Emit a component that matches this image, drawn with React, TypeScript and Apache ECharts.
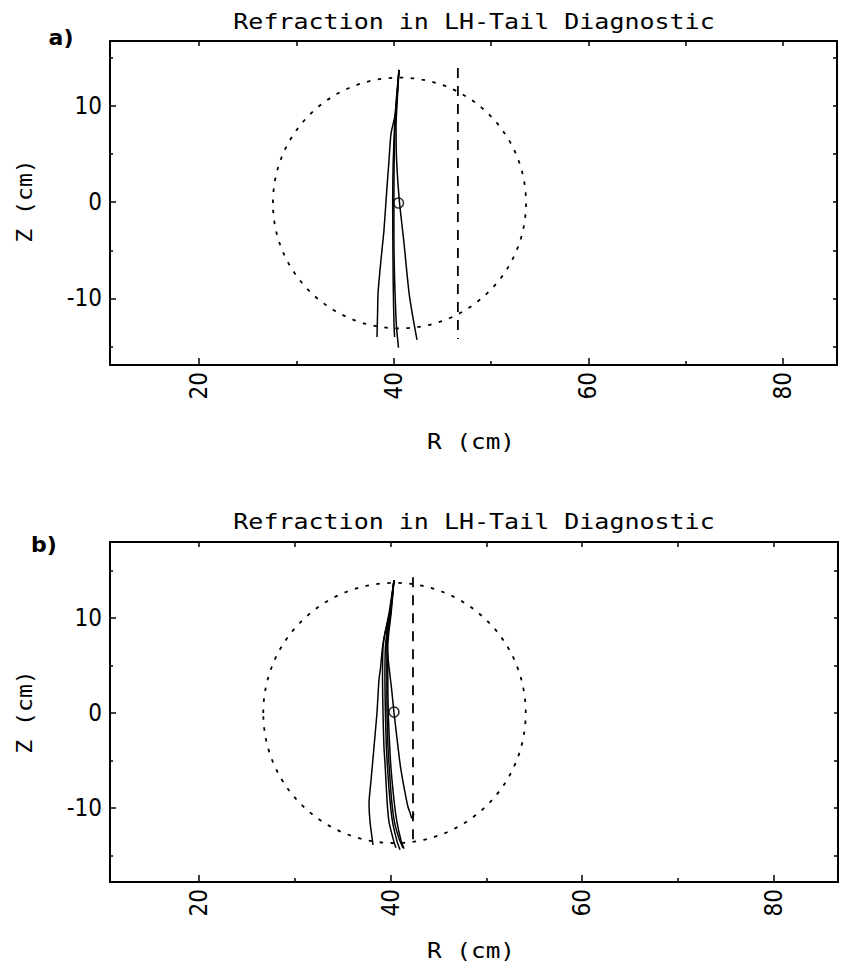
import React, { useEffect, useRef } from 'react';
import * as echarts from 'echarts';

// ---- tick values ----
const xTickLabels = [20, 40, 60, 80];
const xMinorTicks = [30, 50, 70];
const xTopTicks = [20, 30, 40, 50, 60, 70, 80];
const yTickLabels = [-10, 0, 10];
const yMinorTicks = [-15, -5, 5, 15];
const yRightTicks = [-15, -10, -5, 0, 5, 10, 15];

const titleText = 'Refraction in LH-Tail Diagnostic';
const xName = 'R (cm)';
const yName = 'Z (cm)';
const panelLetters = ['a)', 'b)'];

// ---- panel a data (R, Z in cm) ----
const rayA1 = [[40.55, 13.7], [40.35, 11], [40.15, 9], [39.73, 7.1], [39.5, 4], [39.32, 1.6], [39.0, -3], [38.7, -6], [38.4, -9.4], [38.35, -11.5], [38.29, -14.0]];
const rayA2 = [[40.55, 13.7], [40.35, 11], [40.15, 8], [40.05, 4], [40.03, 0], [40.03, -4], [40.1, -8], [40.2, -11], [40.3, -13], [40.5, -15.1]];
const rayA3 = [[40.55, 13.7], [40.3, 11], [40.1, 8], [39.95, 4], [39.9, 0], [39.92, -4], [39.95, -8], [40.0, -11], [40.05, -13], [40.1, -14.0]];
const rayA4 = [[40.55, 13.7], [40.4, 11], [40.25, 8], [40.3, 4.4], [40.6, 0], [41.06, -4.2], [41.3, -6.7], [41.58, -9.4], [41.9, -11.5], [42.4, -14.3]];
const raysA = [rayA1, rayA2, rayA3, rayA4];
const vesselA = [40.6, -0.1, 13.0]; // centre R, centre Z, radius
const antennaA = [[46.6, 13.9], [46.6, -14.2]];
const axisMarkA = [[40.5, -0.1]];

// ---- panel b data (R, Z in cm) ----
const rayB1 = [[40.35, 14.0], [39.9, 10.5], [39.4, 8.4], [39.15, 6.9], [38.95, 4.8], [38.78, 3.5], [38.57, 0], [38.26, -3.6], [37.95, -7.1], [37.74, -9.5], [37.85, -11.5], [38.16, -13.9]];
const rayB2 = [[40.35, 14.0], [39.93, 10.5], [39.6, 8.4], [39.62, 6.9], [39.83, 4.8], [40.1, 2.5], [40.35, 0], [40.56, -1.8], [41.0, -5.5], [41.39, -7.8], [41.81, -9.9], [42.02, -10.5], [42.2, -11.05], [42.44, -10.6]];
const rayB3 = [[40.35, 14.0], [39.83, 10.5], [39.41, 8.4], [39.2, 6.9], [39.15, 3.5], [39.2, 0], [39.3, -3.6], [39.41, -5.3], [39.62, -9.2], [39.83, -11.5], [40.35, -13.6], [40.55, -14.2]];
const rayB4 = [[40.35, 14.0], [39.93, 10.5], [39.6, 8.4], [39.45, 6.9], [39.4, 3.5], [39.45, 0], [39.55, -3.6], [39.72, -6.5], [39.93, -9.2], [40.2, -11.5], [40.66, -13.5], [40.97, -14.4]];
const rayB5 = [[40.35, 14.0], [40.0, 10.5], [39.72, 8.4], [39.62, 6.9], [39.6, 3.5], [39.62, 0], [39.72, -3.6], [39.9, -6.5], [40.1, -9.2], [40.4, -11.5], [40.9, -13.3], [41.29, -14.2]];
const rayB6 = [[40.35, 14.0], [40.05, 10.5], [39.8, 8.4], [39.7, 6.9], [39.7, 3.5], [39.75, 0], [39.9, -3.6], [40.05, -6], [40.35, -9.2], [40.66, -11.5], [41.1, -13.5], [41.4, -14.3]];
const raysB = [rayB1, rayB2, rayB3, rayB4, rayB5, rayB6];
const vesselB = [40.4, 0.0, 13.7];
const antennaB = [[42.33, 14.3], [42.33, -14.1]];
const axisMarkB = [[40.35, 0.1]];

const LABEL_FONT = "'Liberation Sans Narrow', 'DejaVu Sans Condensed', 'DejaVu Sans', sans-serif";
const MONO_FONT = "'DejaVu Sans Mono', 'Liberation Mono', monospace";

const panels = [
  {
    grid: { left: 110, top: 41, width: 727, height: 324 },
    x: [10.86, 85.55], y: [-16.9, 16.7],
    rays: raysA, vessel: vesselA, antenna: antennaA, mark: axisMarkA,
    titleY: 22, xNameY: 442, yNameY: 201, letterX: 61, letterY: 37,
  },
  {
    grid: { left: 110, top: 542, width: 728, height: 340 },
    x: [10.7, 86.7], y: [-17.8, 18.0],
    rays: raysB, vessel: vesselB, antenna: antennaB, mark: axisMarkB,
    titleY: 522, xNameY: 951, yNameY: 712, letterX: 44, letterY: 544,
  },
];

function buildOption() {
  const grids: any[] = [];
  const xAxes: any[] = [];
  const yAxes: any[] = [];
  const series: any[] = [];
  const graphics: any[] = [];
  const black = '#000';

  panels.forEach((p, i) => {
    grids.push({ ...p.grid, containLabel: false, outerBoundsMode: 'none', show: false });
    const base = { gridIndex: i, type: 'value', splitLine: { show: false }, scale: false };
    const xb = i * 3;
    xAxes.push({
      ...base, min: p.x[0], max: p.x[1], position: 'bottom',
      axisLine: { show: true, onZero: false, lineStyle: { color: black, width: 2 } },
      axisTick: { show: true, inside: true, length: 7, customValues: xTickLabels, lineStyle: { color: black, width: 1.5 } },
      axisLabel: { show: true, customValues: xTickLabels, rotate: 90, margin: 7, fontSize: 24, fontFamily: LABEL_FONT, color: black },
    });
    xAxes.push({
      ...base, min: p.x[0], max: p.x[1], position: 'bottom',
      axisLine: { show: false, onZero: false },
      axisTick: { show: true, inside: true, length: 4, customValues: xMinorTicks, lineStyle: { color: black, width: 1.5 } },
      axisLabel: { show: false },
    });
    xAxes.push({
      ...base, min: p.x[0], max: p.x[1], position: 'top',
      axisLine: { show: true, onZero: false, lineStyle: { color: black, width: 2 } },
      axisTick: { show: true, inside: true, length: 5, customValues: xTopTicks, lineStyle: { color: black, width: 1.5 } },
      axisLabel: { show: false },
    });
    yAxes.push({
      ...base, min: p.y[0], max: p.y[1], position: 'left',
      axisLine: { show: true, onZero: false, lineStyle: { color: black, width: 2 } },
      axisTick: { show: true, inside: true, length: 6, customValues: yTickLabels, lineStyle: { color: black, width: 1.5 } },
      axisLabel: { show: true, customValues: yTickLabels, margin: 8, fontSize: 24, fontFamily: LABEL_FONT, color: black },
    });
    yAxes.push({
      ...base, min: p.y[0], max: p.y[1], position: 'left',
      axisLine: { show: false, onZero: false },
      axisTick: { show: true, inside: true, length: 3, customValues: yMinorTicks, lineStyle: { color: black, width: 1.5 } },
      axisLabel: { show: false },
    });
    yAxes.push({
      ...base, min: p.y[0], max: p.y[1], position: 'right',
      axisLine: { show: true, onZero: false, lineStyle: { color: black, width: 2 } },
      axisTick: { show: true, inside: true, length: 4, customValues: yRightTicks, lineStyle: { color: black, width: 1.5 } },
      axisLabel: { show: false },
    });

    series.push({
      type: 'custom', coordinateSystem: 'cartesian2d', xAxisIndex: xb, yAxisIndex: xb, silent: true,
      data: [p.vessel],
      renderItem: (params: any, api: any) => {
        const c = api.coord([api.value(0), api.value(1)]);
        const s = api.size([api.value(2), api.value(2)]);
        return {
          type: 'ellipse',
          shape: { cx: c[0], cy: c[1], rx: s[0], ry: s[1] },
          style: { fill: 'none', stroke: black, lineWidth: 1.8, lineDash: [3.5, 7.5] },
        };
      },
    });
    series.push({
      type: 'line', xAxisIndex: xb, yAxisIndex: xb, data: p.antenna, showSymbol: false, silent: true,
      lineStyle: { color: black, width: 1.8, type: [10, 8] },
    });
    p.rays.forEach((r) => {
      series.push({
        type: 'line', xAxisIndex: xb, yAxisIndex: xb, data: r, showSymbol: false, silent: true, smooth: 0.2,
        lineStyle: { color: black, width: 1.5 },
      });
    });
    series.push({
      type: 'scatter', xAxisIndex: xb, yAxisIndex: xb, data: p.mark, symbol: 'circle', symbolSize: 10, silent: true,
      itemStyle: { color: 'transparent', borderColor: black, borderWidth: 1.6 },
    });

    graphics.push({
      type: 'text', x: 474, y: p.titleY, scaleX: 1.19,
      style: { text: titleText, fontSize: 21, fontFamily: MONO_FONT, fill: black, align: 'center', verticalAlign: 'middle', textAlign: 'center', textVerticalAlign: 'middle' },
    });
    graphics.push({
      type: 'text', x: 471, y: p.xNameY, scaleX: 1.16,
      style: { text: xName, fontSize: 21, fontFamily: MONO_FONT, fill: black, align: 'center', verticalAlign: 'middle', textAlign: 'center', textVerticalAlign: 'middle' },
    });
    graphics.push({
      type: 'text', x: 25, y: p.yNameY, rotation: Math.PI / 2, scaleX: 1.1,
      style: { text: yName, fontSize: 21, fontFamily: MONO_FONT, fill: black, align: 'center', verticalAlign: 'middle', textAlign: 'center', textVerticalAlign: 'middle' },
    });
    graphics.push({
      type: 'text', x: p.letterX, y: p.letterY,
      style: { text: panelLetters[i], fontSize: 22, fontWeight: 'bold', fontFamily: "'DejaVu Sans', sans-serif", fill: black, align: 'center', verticalAlign: 'middle', textAlign: 'center', textVerticalAlign: 'middle' },
    });
  });

  return {
    animation: false,
    backgroundColor: '#fff',
    textStyle: { fontFamily: LABEL_FONT, color: '#000' },
    grid: grids,
    xAxis: xAxes,
    yAxis: yAxes,
    series,
    graphic: graphics,
  };
}

export default function App() {
  const ref = useRef<HTMLDivElement>(null);
  useEffect(() => {
    document.body.style.margin = '0';
    if (!ref.current) return;
    const chart = echarts.init(ref.current, undefined, { renderer: 'svg' });
    chart.setOption(buildOption() as any);
    return () => chart.dispose();
  }, []);
  return <div ref={ref} style={{ width: 844, height: 980 }} />;
}
